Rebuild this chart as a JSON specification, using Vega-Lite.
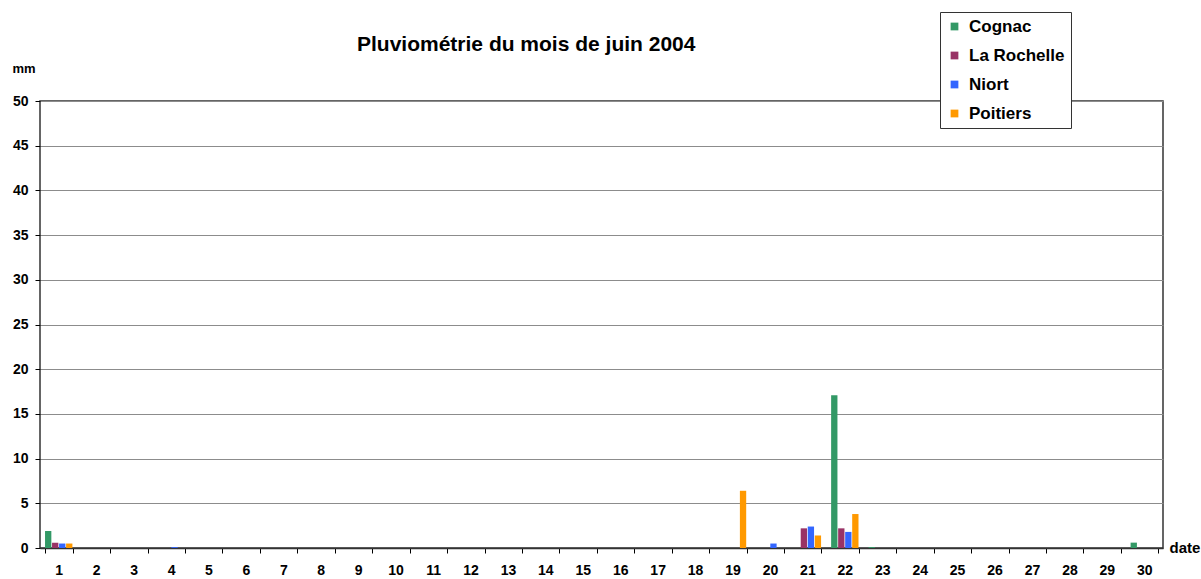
{
  "$schema": "https://vega.github.io/schema/vega-lite/v6.json",
  "width": 1123,
  "height": 447,
  "autosize": "none",
  "padding": {"left": 40, "top": 101, "right": 38, "bottom": 31},
  "background": "white",
  "title": {
    "text": "Pluviométrie du mois de juin 2004",
    "anchor": "start",
    "frame": "group",
    "dx": 317,
    "dy": 60,
    "fontSize": 21,
    "font": "Liberation Sans",
    "fontWeight": "bold",
    "color": "#000",
    "baseline": "alphabetic",
    "offset": 0
  },
  "data": {
    "values": [
      {"date": 1, "station": "Cognac", "mm": 1.9},
      {"date": 1, "station": "La Rochelle", "mm": 0.6},
      {"date": 1, "station": "Niort", "mm": 0.5},
      {"date": 1, "station": "Poitiers", "mm": 0.5},
      {"date": 4, "station": "Niort", "mm": 0.1},
      {"date": 19, "station": "Poitiers", "mm": 6.4},
      {"date": 20, "station": "Niort", "mm": 0.5},
      {"date": 21, "station": "La Rochelle", "mm": 2.2},
      {"date": 21, "station": "Niort", "mm": 2.4},
      {"date": 21, "station": "Poitiers", "mm": 1.4},
      {"date": 22, "station": "Cognac", "mm": 17.1},
      {"date": 22, "station": "La Rochelle", "mm": 2.2},
      {"date": 22, "station": "Niort", "mm": 1.8},
      {"date": 22, "station": "Poitiers", "mm": 3.8},
      {"date": 23, "station": "Cognac", "mm": 0.1},
      {"date": 30, "station": "Cognac", "mm": 0.6}
    ]
  },
  "mark": {"type": "bar"},
  "encoding": {
    "x": {
      "field": "date",
      "type": "ordinal",
      "scale": {
        "domain": [1,2,3,4,5,6,7,8,9,10,11,12,13,14,15,16,17,18,19,20,21,22,23,24,25,26,27,28,29,30],
        "paddingInner": 0.25,
        "paddingOuter": 0.125
      },
      "axis": {
        "title": "date",
        "titleAnchor": "start",
        "titleAlign": "left",
        "titleBaseline": "middle",
        "titleX": 1129,
        "titleY": -1,
        "titleFontSize": 15,
        "titleFont": "Liberation Sans",
        "titleFontWeight": "bold",
        "titleColor": "#000",
        "labelAngle": 0,
        "labelFontSize": 14,
        "labelFont": "Liberation Sans",
        "labelFontWeight": "bold",
        "labelColor": "#000",
        "labelPadding": 10,
        "tickBand": "extent",
        "tickSize": 5,
        "tickColor": "#000",
        "domainColor": "#333",
        "domainWidth": 1.5,
        "grid": false
      }
    },
    "xOffset": {
      "field": "station",
      "type": "nominal",
      "scale": {"paddingInner": 0.1, "paddingOuter": 0.05}
    },
    "y": {
      "field": "mm",
      "type": "quantitative",
      "scale": {"domain": [0, 50]},
      "axis": {
        "values": [0, 5, 10, 15, 20, 25, 30, 35, 40, 45, 50],
        "title": "mm",
        "titleAngle": 0,
        "titleAlign": "left",
        "titleBaseline": "alphabetic",
        "titleAnchor": "end",
        "titleX": -28,
        "titleY": -29,
        "titleFontSize": 13,
        "titleFont": "Liberation Sans",
        "titleFontWeight": "bold",
        "titleColor": "#000",
        "labelFontSize": 14,
        "labelFont": "Liberation Sans",
        "labelFontWeight": "bold",
        "labelColor": "#000",
        "labelPadding": 7,
        "tickSize": 5,
        "tickColor": "#000",
        "domain": false,
        "grid": true,
        "gridColor": "#8c8c8c",
        "gridWidth": 1
      }
    },
    "color": {
      "field": "station",
      "type": "nominal",
      "scale": {
        "domain": ["Cognac", "La Rochelle", "Niort", "Poitiers"],
        "range": ["#339966", "#993366", "#3366ff", "#ff9900"]
      },
      "legend": {
        "title": null,
        "orient": "none",
        "legendX": 900,
        "legendY": -89,
        "symbolType": "square",
        "symbolSize": 60,
        "symbolStrokeWidth": 0,
        "labelFontSize": 17,
        "labelFont": "Liberation Sans",
        "labelFontWeight": "bold",
        "labelColor": "#000",
        "labelOffset": 6,
        "rowPadding": 11,
        "padding": 6,
        "strokeColor": "#333",
        "fillColor": "white"
      }
    }
  },
  "config": {
    "view": {"stroke": "#333", "strokeWidth": 1.5}
  }
}
